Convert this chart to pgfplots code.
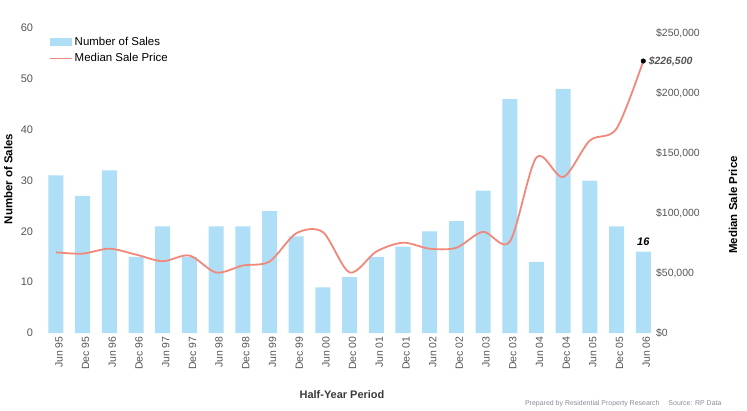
\documentclass[border=0pt]{standalone}
\usepackage{pgfplots}
\pgfplotsset{compat=1.18}
\usepackage{fontspec}
\setmainfont{Liberation Sans}
\definecolor{barblue}{HTML}{AEDFF7}
\definecolor{linered}{HTML}{F2887A}
\definecolor{tickgray}{HTML}{555555}
\definecolor{footgray}{HTML}{8A8A9A}
\begin{document}
\begin{tikzpicture}[x=1bp,y=1bp]
\useasboundingbox (0,0) rectangle (747,410);
\pgfplotsset{
  base/.style={scale only axis, width=614bp, height=305bp, at={(42.6bp,77bp)},
    anchor=south west, xmin=-0.5, xmax=22.5, ymin=0,
    axis line style={draw=none}, major tick length=0pt, tick style={draw=none},
    clip=false, /pgf/number format/assume math mode=true}
}
\begin{axis}[base, ymax=60, ytick={0,10,...,60},
  yticklabel style={font=\fontsize{11}{12}\selectfont, text=tickgray, xshift=-6bp},
  xtick={0,...,22},
  xticklabels={Jun 95,Dec 95,Jun 96,Dec 96,Jun 97,Dec 97,Jun 98,Dec 98,Jun 99,Dec 99,Jun 00,Dec 00,Jun 01,Dec 01,Jun 02,Dec 02,Jun 03,Dec 03,Jun 04,Dec 04,Jun 05,Dec 05,Jun 06},
  xticklabel style={rotate=90, anchor=east, font=\fontsize{10.5}{12}\selectfont, text=tickgray, yshift=-3bp},
  ylabel={Number of Sales},
  ylabel style={at={(axis description cs:-0.056,0.505)}, anchor=center, rotate=0, font=\bfseries\fontsize{11.5}{13}\selectfont},
  xlabel={Half-Year Period},
  xlabel style={at={(axis description cs:0.4876,-0.203)}, anchor=center, font=\bfseries\fontsize{11}{13}\selectfont, text=tickgray!70!black},
  legend style={at={(axis description cs:0.01,0.985)}, anchor=north west, draw=none, fill=none,
    font=\fontsize{11.5}{13}\selectfont, row sep=3bp, inner xsep=0pt},
  legend cell align=left,
]
\addplot[ybar, bar width=15bp, fill=barblue, draw=none,
  legend image code/.code={\fill[barblue] (0bp,-4bp) rectangle (22bp,4bp);}]
  coordinates {(0,31) (1,27) (2,32) (3,15) (4,21) (5,15) (6,21) (7,21) (8,24) (9,19) (10,9) (11,11) (12,15) (13,17) (14,20) (15,22) (16,28) (17,46) (18,14) (19,48) (20,30) (21,21) (22,16)};
\addlegendentry{Number of Sales}
\addlegendimage{legend image code/.code={\draw[linered, line width=1.8bp] (0bp,0bp) -- (22bp,0bp);}}
\addlegendentry{Median Sale Price}
\node[above, font=\bfseries\itshape\fontsize{11}{12}\selectfont, yshift=3bp] at (axis cs:22,16) {16};
\end{axis}
\begin{axis}[base, ymax=254000, axis x line=none,
  axis y line*=right, scaled y ticks=false,
  ytick={0,50000,100000,150000,200000,250000},
  yticklabels={{\$0},{\$50,000},{\$100,000},{\$150,000},{\$200,000},{\$250,000}},
  yticklabel style={anchor=west, xshift=-4bp, font=\fontsize{10.5}{12}\selectfont, text=tickgray},
  ylabel={Median Sale Price},
  ylabel style={at={(axis description cs:1.1244,0.42)}, anchor=center, rotate=0, font=\bfseries\fontsize{11.5}{13}\selectfont},
]
\addplot[linered, line width=1.8bp, smooth, tension=0.5]
  coordinates {(0,67200) (1,66100) (2,70200) (3,65300) (4,59800) (5,64500) (6,50400) (7,56200) (8,59500) (9,83000) (10,84000) (11,50400) (12,67800) (13,75200) (14,70200) (15,71000) (16,84300) (17,76000) (18,146300) (19,129800) (20,160300) (21,170200) (22,226500)};
\addplot[only marks, mark=*, mark size=2.3bp, black] coordinates {(22,226500)}
  node[right, xshift=2bp, font=\bfseries\itshape\fontsize{10.5}{12}\selectfont, text=tickgray] {\$226,500};
\end{axis}
\node[anchor=east, font=\fontsize{7}{8}\selectfont, text=footgray] at (725,6) {Prepared by Residential Property Research \quad Source: RP Data};
\end{tikzpicture}
\end{document}
